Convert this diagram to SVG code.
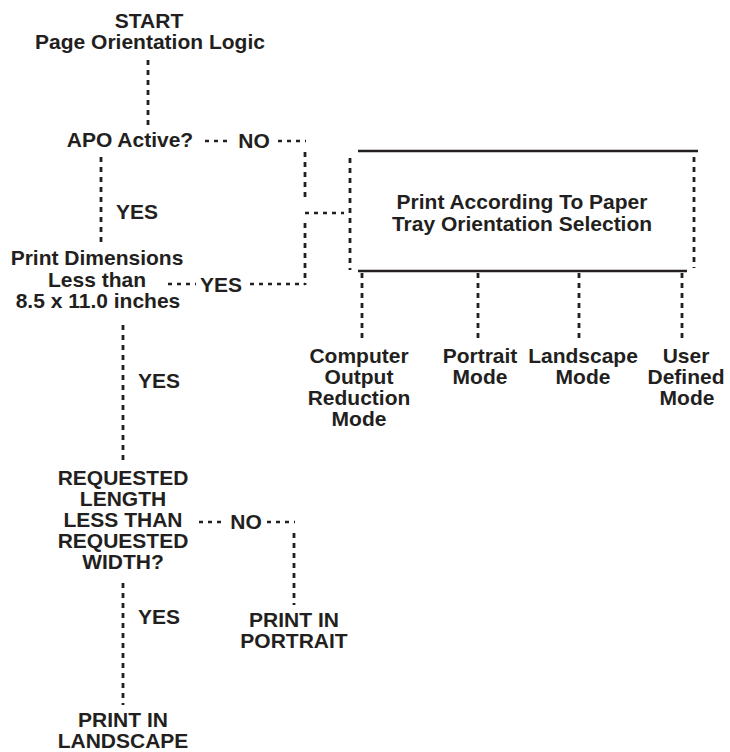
<svg xmlns="http://www.w3.org/2000/svg" width="730" height="752" viewBox="0 0 730 752">
<style>
text{font-family:"Liberation Sans",Arial,Helvetica,sans-serif;font-weight:bold;font-size:21px;fill:#231f20;text-anchor:middle}
text.l{text-anchor:start}
.dv{stroke:#231f20;stroke-width:2.8;stroke-dasharray:5 5;fill:none}
.dh{stroke:#231f20;stroke-width:2.3;stroke-dasharray:4 5;fill:none}
.s{stroke:#231f20;stroke-width:2.6;fill:none}
</style>
<rect width="730" height="752" fill="#fff"/>
<g id="start">
<text x="149" y="28">START</text>
<text x="150" y="49">Page Orientation Logic</text>
</g>
<g id="apo">
<text x="130" y="147">APO Active?</text>
</g>
<g id="dims">
<text x="97" y="265">Print Dimensions</text>
<text x="97" y="287">Less than</text>
<text x="98" y="308">8.5 x 11.0 inches</text>
</g>
<g id="tray">
<line class="s" x1="358" y1="151" x2="698" y2="151"/>
<line class="s" x1="358" y1="271" x2="687" y2="271"/>
<line class="dv" x1="350" y1="158" x2="350" y2="270"/>
<line class="dv" x1="694" y1="157" x2="694" y2="268"/>
<text x="522" y="209">Print According To Paper</text>
<text x="522" y="231">Tray Orientation Selection</text>
</g>
<g id="mode-cor">
<text x="359" y="363">Computer</text>
<text x="359" y="384">Output</text>
<text x="359" y="405">Reduction</text>
<text x="359" y="426">Mode</text>
</g>
<g id="mode-portrait">
<text x="480" y="363">Portrait</text>
<text x="480" y="384">Mode</text>
</g>
<g id="mode-landscape">
<text x="583" y="363">Landscape</text>
<text x="583" y="384">Mode</text>
</g>
<g id="mode-user">
<text x="686" y="363">User</text>
<text x="686" y="384">Defined</text>
<text x="687" y="405">Mode</text>
</g>
<g id="requested">
<text x="123" y="485">REQUESTED</text>
<text x="123" y="506">LENGTH</text>
<text x="123" y="527">LESS THAN</text>
<text x="123" y="548">REQUESTED</text>
<text x="123" y="569">WIDTH?</text>
</g>
<g id="print-portrait">
<text x="294" y="627">PRINT IN</text>
<text x="294" y="648">PORTRAIT</text>
</g>
<g id="print-landscape">
<text x="123" y="727">PRINT IN</text>
<text x="123" y="748">LANDSCAPE</text>
</g>
<g id="connectors">
<line class="dv" x1="148" y1="60" x2="148" y2="130"/>
<line class="dh" x1="205" y1="141" x2="232" y2="141"/>
<text x="254" y="148">NO</text>
<line class="dh" x1="278" y1="141" x2="306" y2="141"/>
<line class="dv" x1="305" y1="152" x2="305" y2="202"/>
<line class="dh" x1="305" y1="213" x2="344" y2="213"/>
<line class="dv" x1="305" y1="223" x2="305" y2="285"/>
<line class="dv" x1="101" y1="157" x2="101" y2="247"/>
<text class="l" x="116" y="219">YES</text>
<line class="dh" x1="168" y1="284" x2="196" y2="284"/>
<text x="221" y="292">YES</text>
<line class="dh" x1="250" y1="284" x2="305" y2="284"/>
<line class="dv" x1="362" y1="273" x2="362" y2="342"/>
<line class="dv" x1="478" y1="273" x2="478" y2="342"/>
<line class="dv" x1="579" y1="273" x2="579" y2="342"/>
<line class="dv" x1="682" y1="273" x2="682" y2="342"/>
<line class="dv" x1="123" y1="325" x2="123" y2="460"/>
<text class="l" x="138" y="388">YES</text>
<line class="dh" x1="199" y1="522" x2="226" y2="522"/>
<text x="246" y="529">NO</text>
<line class="dh" x1="267" y1="522" x2="295" y2="522"/>
<line class="dv" x1="294" y1="533" x2="294" y2="605"/>
<line class="dv" x1="123" y1="583" x2="123" y2="705"/>
<text class="l" x="138" y="624">YES</text>
</g>
</svg>
